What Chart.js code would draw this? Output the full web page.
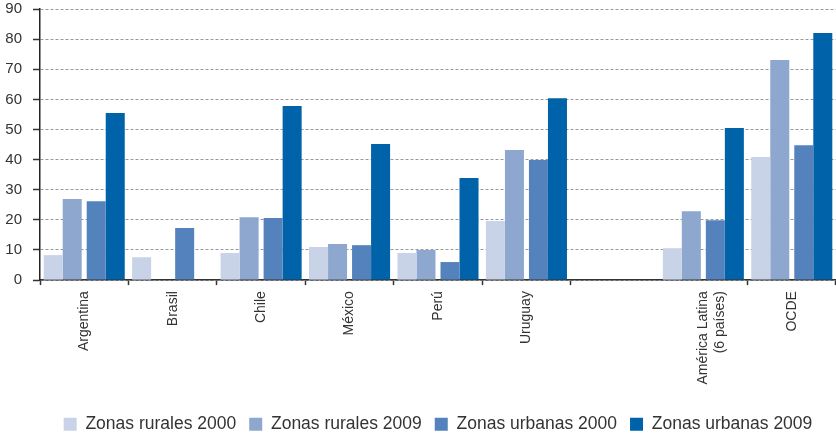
<!DOCTYPE html>
<html>
<head>
<meta charset="utf-8">
<script src="https://cdn.jsdelivr.net/npm/chart.js@4/dist/chart.umd.min.js"></script>
<style>
  body { margin: 0; background: #fff; }
  #wrap { width: 836px; height: 435px; position: relative; }
</style>
</head>
<body>
<div id="wrap"><canvas id="grafico"></canvas></div>
<script>
// categorias (la vacia deja el hueco antes de los promedios)
const paises = ['Argentina', 'Brasil', 'Chile', 'México', 'Perú', 'Uruguay', '', ['América Latina', '(6 países)'], 'OCDE'];

const rurales2000 = [8.3, 7.6, 9.0, 11.0, 9.0, 19.6, null, 10.6, 40.9];
const rurales2009 = [26.9, null, 20.9, 12.0, 10.0, 43.2, null, 22.9, 73.1];
const urbanas2000 = [26.2, 17.3, 20.6, 11.6, 6.0, 39.9, null, 19.9, 44.8];
const urbanas2009 = [55.5, null, 57.8, 45.2, 33.9, 60.4, null, 50.5, 82.0];

const ejeY = [0, 10, 20, 30, 40, 50, 60, 70, 80, 90];

const fuente = "'Liberation Sans', Arial, sans-serif";

// separa un poco los pares rural / urbano
const separarPares = {
    id: 'separarPares',
    afterDatasetsUpdate(chart) {
        chart.data.datasets.forEach((ds, i) => {
            const shift = i < 2 ? -2.5 : 2.5;
            chart.getDatasetMeta(i).data.forEach(bar => { bar.x += shift; });
        });
    }
};

const ctx = document.getElementById('grafico').getContext('2d');
new Chart(ctx, {
    type: 'bar',
    data: {
        labels: paises,
        datasets: [
            { label: 'Zonas rurales 2000', data: rurales2000, backgroundColor: '#c9d3e8' },
            { label: 'Zonas rurales 2009', data: rurales2009, backgroundColor: '#8ea7cf' },
            { label: 'Zonas urbanas 2000', data: urbanas2000, backgroundColor: '#5482bc' },
            { label: 'Zonas urbanas 2009', data: urbanas2009, backgroundColor: '#0062a8' }
        ]
    },
    options: {
        responsive: true,
        maintainAspectRatio: false,
        animation: false,
        categoryPercentage: 0.86,
        barPercentage: 1,
        layout: { padding: { left: 0, right: 0, top: 0, bottom: -8 } },
        plugins: {
            legend: {
                position: 'bottom',
                fullSize: false,
                labels: {
                    font: { family: fuente, size: 17.5 },
                    color: '#333',
                    boxWidth: 13,
                    boxHeight: 13,
                    padding: 13
                }
            },
            tooltip: { enabled: false }
        },
        scales: {
            x: {
                offset: true,
                afterFit: (axis) => { axis.height += 12; },
                grid: {
                    offset: true,
                    drawOnChartArea: false,
                    tickLength: 5,
                    tickWidth: 1.5,
                    color: (c) => c.index === 7 ? 'rgba(0,0,0,0)' : '#333',
                    tickColor: (c) => c.index === 7 ? 'rgba(0,0,0,0)' : '#333'
                },
                border: { color: '#333', width: 1.5 },
                ticks: {
                    autoSkip: false,
                    minRotation: 90,
                    maxRotation: 90,
                    padding: 6,
                    color: '#333',
                    font: { family: fuente, size: 14 }
                }
            },
            y: {
                min: 0,
                max: 90,
                afterBuildTicks: (axis) => { axis.ticks = ejeY.map(v => ({ value: v })); },
                afterFit: (axis) => {
                    axis.width = 40;
                    axis.paddingTop = 9;
                    axis.paddingBottom = 9;
                },
                grid: {
                    color: '#999',
                    lineWidth: 1,
                    tickLength: 7,
                    tickColor: '#333',
                    tickWidth: 1.5,
                    tickBorderDash: []
                },
                border: { color: '#222', width: 1.5, dash: [3, 2] },
                ticks: {
                    padding: 11,
                    color: '#333',
                    font: { family: fuente, size: 15 }
                }
            }
        }
    },
    plugins: [separarPares]
});
</script>
</body>
</html>
